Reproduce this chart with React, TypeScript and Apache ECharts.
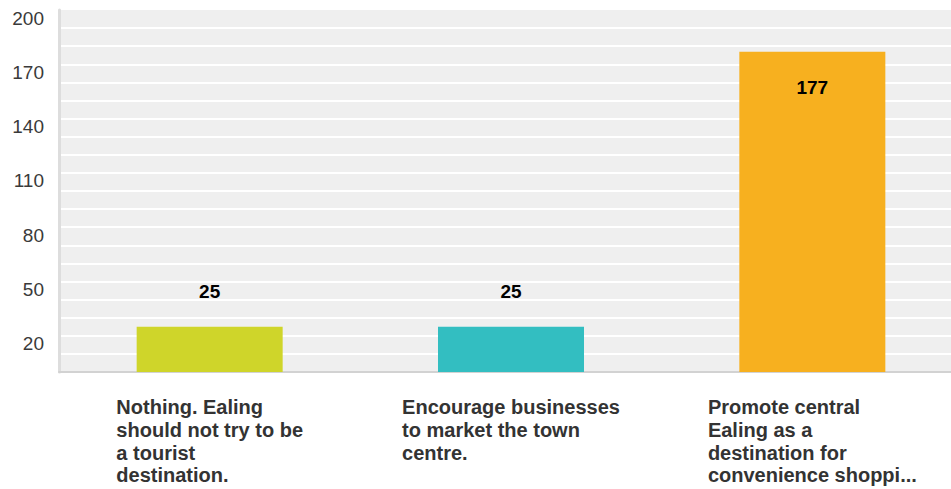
import React, { useEffect, useRef } from "react";
import * as echarts from "echarts";

const categories: string[] = [
  "Nothing. Ealing\nshould not try to be\na tourist\ndestination.",
  "Encourage businesses\nto market the town\ncentre.",
  "Promote central\nEaling as a\ndestination for\nconvenience shoppi...",
];
const values: number[] = [25, 25, 177];
const barColors: string[] = ["#cfd52a", "#33bec1", "#f7b01f"];
const yTickLabels: number[] = [20, 50, 80, 110, 140, 170, 200];

const FONT = "'Liberation Sans', Arial, Helvetica, sans-serif";

export default function App() {
  const ref = useRef<HTMLDivElement>(null);
  useEffect(() => {
    if (!ref.current) return;
    const chart = echarts.init(ref.current, undefined, { renderer: "svg" });
    chart.setOption({
      animation: false,
      backgroundColor: "#ffffff",
      textStyle: { fontFamily: FONT },
      grid: {
        left: 59,
        top: 10,
        height: 362,
        width: 904,
        show: true,
        backgroundColor: "#efefef",
        borderWidth: 0,
        containLabel: false,
        outerBoundsMode: "none",
      },
      xAxis: {
        type: "category",
        data: categories,
        axisLine: { show: true, lineStyle: { color: "#d2d2d2", width: 2 } },
        axisTick: { show: false },
        splitLine: { show: false },
        axisLabel: {
          interval: 0,
          margin: 24,
          align: "center",
          hideOverlap: false,
          formatter: (v: string) =>
            v
              .split("\n")
              .map((s) => `{a|${s}}`)
              .join("\n"),
          rich: {
            a: {
              align: "left",
              fontFamily: FONT,
              fontWeight: "bold",
              fontSize: 20,
              lineHeight: 22.6,
              color: "#333333",
            },
          },
        },
      },
      yAxis: {
        type: "value",
        min: 0,
        max: 200,
        interval: 10,
        axisLine: { show: true, lineStyle: { color: "#dddddd", width: 3 } },
        axisTick: { show: false },
        splitLine: {
          show: true,
          showMinLine: false,
          showMaxLine: false,
          lineStyle: { color: "#ffffff", width: 2 },
        },
        axisLabel: {
          margin: 15,
          fontFamily: FONT,
          fontSize: 19,
          lineHeight: 16,
          color: "#3a3a3a",
          verticalAlign: "top",
          formatter: (v: number) => (yTickLabels.includes(v) ? String(v) : ""),
        },
      },
      series: [
        {
          type: "bar",
          barWidth: 146,
          data: values.map((v, i) => ({
            value: v,
            itemStyle: { color: barColors[i] },
            label:
              v > 100
                ? { position: "insideTop", distance: 26 }
                : { position: "top", distance: 26 },
          })),
          label: {
            show: true,
            fontFamily: FONT,
            fontWeight: "bold",
            fontSize: 19,
            color: "#000000",
          },
        },
      ],
    });
    return () => chart.dispose();
  }, []);
  return (
    <div
      ref={ref}
      style={{ position: "absolute", left: 0, top: 0, width: 951, height: 489 }}
    />
  );
}
